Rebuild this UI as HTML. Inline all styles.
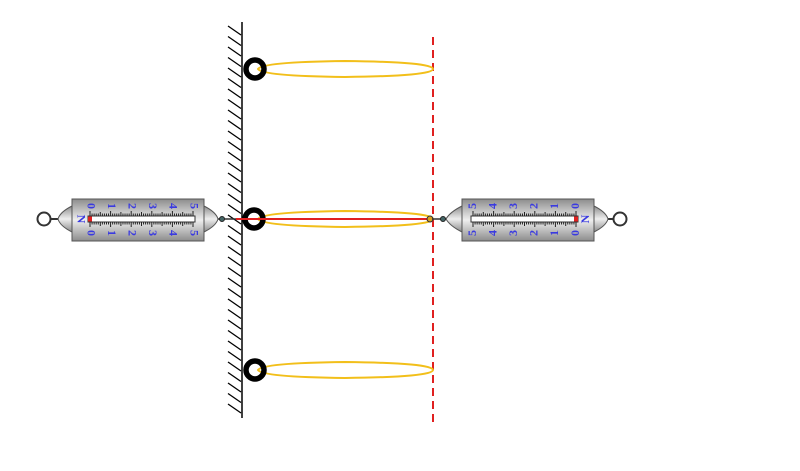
<!DOCTYPE html>
<html><head><meta charset="utf-8"><style>
html,body{margin:0;padding:0;background:#fff;width:800px;height:471px;overflow:hidden}
svg{display:block}
text{font-family:"Liberation Serif",serif;font-size:12px;fill:#3a3ae0;font-weight:bold}
</style></head><body>
<svg width="800" height="471" viewBox="0 0 800 471">
<defs>
<linearGradient id="g" x1="0" y1="0" x2="0" y2="1">
<stop offset="0" stop-color="#8c8c8c"/><stop offset="0.5" stop-color="#eeeeee"/><stop offset="1" stop-color="#8c8c8c"/>
</linearGradient>
</defs>
<line x1="242" y1="22" x2="242" y2="418" stroke="#000" stroke-width="1.5"/>
<g stroke="#000" stroke-width="1.3" id="hatch"></g>
<line x1="433" y1="37" x2="433" y2="425" stroke="#e02020" stroke-width="2" stroke-dasharray="8,5"/>
<g fill="none" stroke="#f2bf1a" stroke-width="2">
<path d="M258 69 Q262 62 345 61 Q433 62 433 69 Q433 76 345 77 Q262 76 258 69Z"/>
<path d="M258 219 Q262 212 345 211 Q433 212 433 219 Q433 226 345 227 Q262 226 258 219Z"/>
<path d="M258 370 Q262 363 345 362 Q433 363 433 370 Q433 377 345 378 Q262 377 258 370Z"/>
</g>
<g fill="none" stroke="#000" stroke-width="5.5">
<circle cx="255" cy="69" r="9"/>
<circle cx="254" cy="219" r="9"/>
<circle cx="255" cy="370" r="9"/>
</g>
<line x1="236" y1="219" x2="430" y2="219" stroke="#e02020" stroke-width="2"/>
<circle cx="430" cy="219" r="3" fill="#d9a020" stroke="#333" stroke-width="1"/>
<g>
<circle cx="44" cy="219" r="6.5" fill="#fff" stroke="#333" stroke-width="2"/>
<line x1="50" y1="219" x2="62" y2="219" stroke="#333" stroke-width="2"/>
<path d="M72 206 Q60 212 58 219 Q60 226 72 232Z" fill="url(#g)" stroke="#555"/>
<path d="M204 206 Q216 212 218 219 Q216 226 204 232Z" fill="url(#g)" stroke="#555"/>
<line x1="218" y1="219" x2="236" y2="219" stroke="#333" stroke-width="1.5"/>
<circle cx="222" cy="219" r="2.5" fill="#466" stroke="#222"/>
<rect x="72" y="199" width="132" height="42" fill="url(#g)" stroke="#555"/>
<rect x="88" y="216" width="107" height="6" fill="#fff" stroke="#333"/>
<line x1="88" y1="219" x2="92" y2="219" stroke="#e02020" stroke-width="5"/>
</g>
<g>
<circle cx="620" cy="219" r="6.5" fill="#fff" stroke="#333" stroke-width="2"/>
<line x1="604" y1="219" x2="614" y2="219" stroke="#333" stroke-width="2"/>
<path d="M462 206 Q450 212 446 219 Q450 226 462 232Z" fill="url(#g)" stroke="#555"/>
<path d="M594 206 Q606 212 608 219 Q606 226 594 232Z" fill="url(#g)" stroke="#555"/>
<line x1="432" y1="219" x2="446" y2="219" stroke="#333" stroke-width="1.5"/>
<circle cx="443" cy="219" r="2.5" fill="#466" stroke="#222"/>
<rect x="462" y="199" width="132" height="42" fill="url(#g)" stroke="#555"/>
<rect x="471" y="216" width="107" height="6" fill="#fff" stroke="#333"/>
<line x1="574" y1="219" x2="578" y2="219" stroke="#e02020" stroke-width="5"/>
</g>
<g id="T"></g>
</svg>
<script>
var ns="http://www.w3.org/2000/svg";
var h=document.getElementById('hatch');
for(var y=26;y<408;y+=10.5){var l=document.createElementNS(ns,'line');l.setAttribute('x1',228);l.setAttribute('y1',y);l.setAttribute('x2',241);l.setAttribute('y2',y+9);h.appendChild(l);}
var T=document.getElementById('T');
function tick(x,y1,y2){var l=document.createElementNS(ns,'line');l.setAttribute('x1',x);l.setAttribute('x2',x);l.setAttribute('y1',y1);l.setAttribute('y2',y2);l.setAttribute('stroke','#222');l.setAttribute('stroke-width','1');T.appendChild(l);}
function txt(x,y,s,rot){var t=document.createElementNS(ns,'text');t.setAttribute('transform','translate('+x+','+y+') rotate('+rot+')');t.setAttribute('text-anchor','middle');t.setAttribute('dominant-baseline','middle');t.textContent=s;T.appendChild(t);}
for(var i=0;i<=50;i++){var big=i%10==0,mid=i%5==0;var len=big?5:(mid?4:2.5);
 var x=90+i*2.06;tick(x,216-len,216);tick(x,222,222+len);
 var xr=576-i*2.06;tick(xr,216-len,216);tick(xr,222,222+len);}
for(var k=0;k<=5;k++){var x=90+k*20.6;txt(x,206,k,90);txt(x,233,k,90);
 var xr=576-k*20.6;txt(xr,206,k,-90);txt(xr,233,k,-90);}
txt(80,219,'N',90);txt(586,219,'N',-90);
</script>
</body></html>
